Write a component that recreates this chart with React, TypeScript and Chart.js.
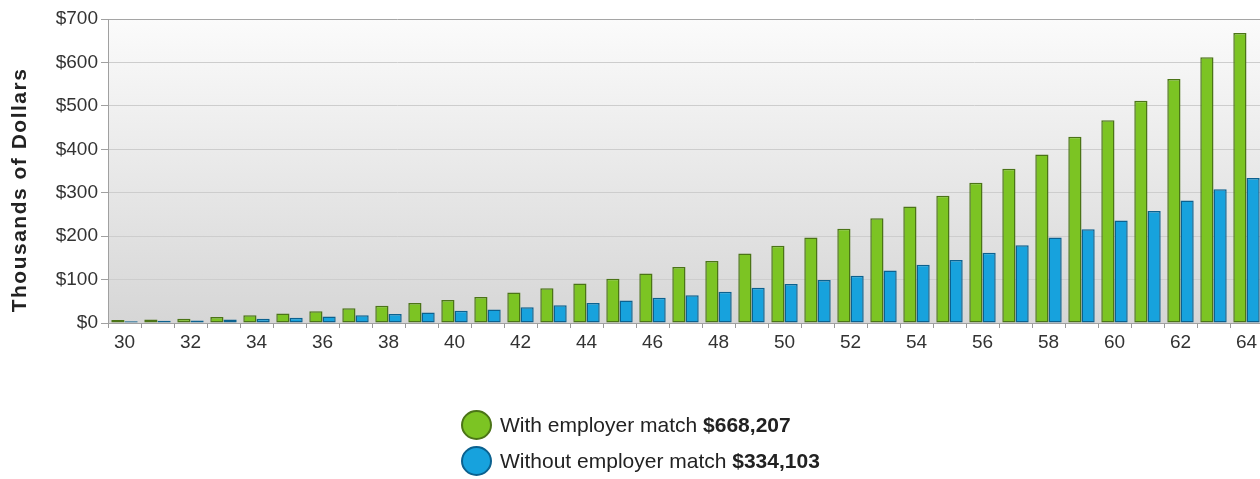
import React, { useEffect, useRef } from "react";
import { Chart, registerables } from "chart.js";

Chart.register(...registerables);

const ages = [
  "30", "31", "32", "33", "34", "35", "36", "37", "38", "39",
  "40", "41", "42", "43", "44", "45", "46", "47", "48", "49",
  "50", "51", "52", "53", "54", "55", "56", "57", "58", "59",
  "60", "61", "62", "63", "64",
];

const withMatch = [
  7, 8, 10, 14, 18, 22, 27, 34, 40, 46,
  53, 60, 70, 80, 91, 102, 114, 129, 143, 160,
  178, 197, 217, 241, 268, 293, 323, 355, 388, 429,
  467, 512, 562, 612, 668,
];

const withoutMatch = [
  4, 5, 6, 8, 10, 12, 15, 18, 21, 24,
  28, 31, 36, 41, 46, 52, 58, 64, 72, 81,
  90, 99, 109, 121, 134, 145, 162, 179, 197, 216,
  236, 258, 282, 308, 334,
];

const seriesNames = ["With employer match", "Without employer match"];
const seriesTotals = ["$668,207", "$334,103"];
const yTitle = "Thousands of Dollars";

const FONT = '"Liberation Sans", Arial, Helvetica, sans-serif';

const GREEN = "#7cc423";
const GREEN_BORDER = "#4b7417";
const BLUE = "#17a2dd";
const BLUE_BORDER = "#0b618f";

export default function App() {
  const ref = useRef<HTMLCanvasElement | null>(null);

  useEffect(() => {
    if (!ref.current) return;

    const bgPlugin = {
      id: "bgGradient",
      beforeDraw(chart: any) {
        const { ctx, chartArea } = chart;
        if (!chartArea) return;
        const g = ctx.createLinearGradient(0, chartArea.top, 0, chartArea.bottom);
        g.addColorStop(0, "#fbfbfb");
        g.addColorStop(1, "#d6d6d6");
        ctx.save();
        ctx.fillStyle = g;
        ctx.fillRect(
          chartArea.left,
          chartArea.top,
          chartArea.right - chartArea.left,
          chartArea.bottom - chartArea.top
        );
        ctx.restore();
      },
    };

    const titlePlugin = {
      id: "yTitle",
      afterDraw(chart: any) {
        const ctx = chart.ctx;
        ctx.save();
        ctx.translate(20, 190);
        ctx.rotate(-Math.PI / 2);
        ctx.font = `bold 21px ${FONT}`;
        (ctx as any).letterSpacing = "1.5px";
        ctx.fillStyle = "#222";
        ctx.textAlign = "center";
        ctx.textBaseline = "middle";
        ctx.fillText(yTitle, 0, 0);
        ctx.restore();
      },
    };

    const chart = new Chart(ref.current, {
      type: "bar",
      data: {
        labels: ages,
        datasets: [
          {
            label: seriesNames[0],
            data: withMatch,
            backgroundColor: GREEN,
            borderColor: GREEN_BORDER,
            borderWidth: 1.5,
            borderSkipped: false,
            categoryPercentage: 0.8,
            barPercentage: 1.0,
          },
          {
            label: seriesNames[1],
            data: withoutMatch,
            backgroundColor: BLUE,
            borderColor: BLUE_BORDER,
            borderWidth: 1.5,
            borderSkipped: false,
            categoryPercentage: 0.8,
            barPercentage: 1.0,
          },
        ],
      },
      options: {
        responsive: false,
        animation: false,
        devicePixelRatio: 1,
        layout: { padding: { top: 19, left: 0, right: 0, bottom: 0 } },
        plugins: {
          legend: { display: false },
          tooltip: { enabled: false },
        },
        scales: {
          x: {
            grid: {
              offset: true,
              drawOnChartArea: false,
              drawTicks: true,
              tickLength: 5,
              color: "#9a9a9a",
            },
            border: { color: "#a0a0a0" },
            ticks: {
              autoSkip: false,
              maxRotation: 0,
              padding: 3,
              color: "#333",
              font: { family: FONT, size: 19 },
              callback: (_v: any, i: number) => (i % 2 === 0 ? ages[i] : ""),
            },
            afterFit: (s: any) => {
              s.height = 156;
            },
          },
          y: {
            min: 0,
            max: 700,
            ticks: {
              stepSize: 100,
              padding: 3,
              color: "#333",
              font: { family: FONT, size: 19 },
              callback: (v: any) => "$" + v,
            },
            grid: {
              color: (c: any) =>
                c.tick && c.tick.value === 700 ? "#a5a5a5" : "#cdcdcd",
              tickColor: "#a0a0a0",
              tickLength: 7,
            },
            border: { color: "#a0a0a0" },
            afterFit: (s: any) => {
              s.width = 108;
            },
          },
        },
      },
      plugins: [bgPlugin, titlePlugin],
    } as any);

    return () => chart.destroy();
  }, []);

  const legendColors = [
    [GREEN, GREEN_BORDER],
    [BLUE, BLUE_BORDER],
  ];

  return (
    <div
      style={{
        position: "fixed",
        left: 0,
        top: 0,
        width: 1260,
        height: 479,
        overflow: "hidden",
        background: "#fff",
      }}
    >
      <canvas ref={ref} width={1263} height={479} style={{ display: "block" }} />
      <div
        style={{
          position: "absolute",
          left: 461,
          top: 407,
          fontFamily: FONT,
          fontSize: 21,
          color: "#222",
        }}
      >
        {seriesNames.map((name, i) => (
          <div
            key={name}
            style={{ display: "flex", alignItems: "center", height: 36, whiteSpace: "nowrap" }}
          >
            <span
              style={{
                display: "inline-block",
                width: 31,
                height: 30,
                borderRadius: "50%",
                boxSizing: "border-box",
                background: legendColors[i][0],
                border: `2px solid ${legendColors[i][1]}`,
                marginRight: 8,
              }}
            />
            <span>
              {name} <b>{seriesTotals[i]}</b>
            </span>
          </div>
        ))}
      </div>
    </div>
  );
}
